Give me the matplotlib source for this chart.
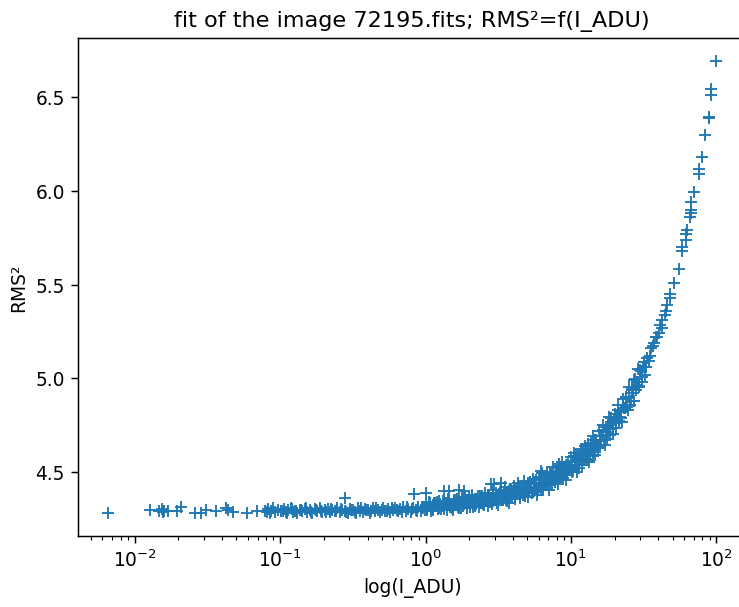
import numpy as np
import matplotlib
matplotlib.use("Agg")
import matplotlib.pyplot as plt

# Faint sources (I_ADU < 0.1)
faint_i = [0.0066, 0.0128, 0.0147, 0.0153, 0.0157, 0.0160, 0.0170, 0.0194, 0.0207,
           0.0259, 0.0288, 0.0307, 0.0362, 0.0422, 0.0440, 0.0472, 0.0589, 0.0690,
           0.0790, 0.0815, 0.0832, 0.0851, 0.0870, 0.0890, 0.0930, 0.0975]
faint_rms2 = [4.282, 4.296, 4.290, 4.300, 4.284, 4.293, 4.291, 4.290, 4.314,
              4.282, 4.283, 4.296, 4.290, 4.305, 4.298, 4.286, 4.282, 4.290,
              4.294, 4.285, 4.300, 4.279, 4.292, 4.306, 4.288, 4.297]

# 0.1 <= I_ADU < 1
low_i = [0.101, 0.106, 0.110, 0.114, 0.118, 0.122, 0.127, 0.131, 0.137, 0.142,
         0.148, 0.153, 0.160, 0.167, 0.173, 0.180, 0.188, 0.195, 0.203, 0.212,
         0.220, 0.229, 0.238, 0.248, 0.258, 0.268, 0.280, 0.291, 0.303, 0.315,
         0.328, 0.341, 0.355, 0.370, 0.385, 0.400, 0.417, 0.434, 0.451, 0.470,
         0.489, 0.509, 0.530, 0.551, 0.574, 0.597, 0.621, 0.647, 0.673, 0.700,
         0.729, 0.759, 0.790, 0.822, 0.856, 0.891, 0.927, 0.965,
         0.104, 0.112, 0.120, 0.129, 0.140, 0.151, 0.163, 0.176, 0.191, 0.207,
         0.224, 0.243, 0.263, 0.286, 0.309, 0.335, 0.362, 0.392, 0.425, 0.460,
         0.499, 0.540, 0.585, 0.634, 0.687, 0.744, 0.806, 0.873, 0.945, 0.985]
low_rms2 = [4.290, 4.301, 4.285, 4.296, 4.306, 4.288, 4.294, 4.283, 4.299, 4.291,
            4.304, 4.287, 4.296, 4.281, 4.300, 4.292, 4.308, 4.286, 4.295, 4.302,
            4.284, 4.297, 4.290, 4.306, 4.288, 4.299, 4.293, 4.282, 4.303, 4.295,
            4.288, 4.309, 4.292, 4.286, 4.301, 4.296, 4.283, 4.305, 4.291, 4.299,
            4.287, 4.310, 4.294, 4.302, 4.285, 4.298, 4.306, 4.290, 4.301, 4.311,
            4.293, 4.304, 4.287, 4.308, 4.297, 4.313, 4.292, 4.305,
            4.294, 4.282, 4.302, 4.289, 4.297, 4.307, 4.284, 4.299, 4.291, 4.285,
            4.304, 4.293, 4.300, 4.288, 4.296, 4.283, 4.305, 4.297, 4.290, 4.308,
            4.298, 4.289, 4.310, 4.295, 4.286, 4.312, 4.300, 4.291, 4.315, 4.299]

# 1 <= I_ADU < 10
mid_i = [1.01, 1.03, 1.05, 1.08, 1.10, 1.12, 1.15, 1.17, 1.20, 1.23, 1.25, 1.28,
         1.31, 1.33, 1.36, 1.40, 1.43, 1.46, 1.49, 1.52, 1.56, 1.60, 1.63, 1.67,
         1.71, 1.75, 1.79, 1.83, 1.87, 1.92, 1.96, 2.01, 2.05, 2.10, 2.15, 2.20,
         2.25, 2.30, 2.36, 2.41, 2.47, 2.52, 2.58, 2.64, 2.70, 2.77, 2.83, 2.90,
         2.96, 3.03, 3.10, 3.18, 3.25, 3.33, 3.40, 3.48, 3.57, 3.65, 3.73, 3.82,
         3.91, 4.00, 4.10, 4.19, 4.29, 4.39, 4.49, 4.60, 4.70, 4.81, 4.93, 5.04,
         5.16, 5.28, 5.40, 5.53, 5.66, 5.79, 5.93, 6.06, 6.21, 6.35, 6.50, 6.65,
         6.81, 6.97, 7.13, 7.30, 7.47, 7.64, 7.82, 8.00, 8.19, 8.38, 8.58, 8.78,
         8.98, 9.19, 9.41, 9.63, 9.85,
         1.02, 1.06, 1.09, 1.13, 1.16, 1.21, 1.24, 1.29, 1.34, 1.38,
         1.42, 1.47, 1.51, 1.55, 1.58, 1.62, 1.65, 1.69, 1.73, 1.77,
         1.81, 1.85, 1.90, 1.94, 1.99, 2.03, 2.08, 2.12, 2.18, 2.23,
         2.28, 2.33, 2.39, 2.44, 2.50, 2.55, 2.61, 2.67, 2.73, 2.80,
         2.87, 2.93, 3.00, 3.07, 3.14, 3.21, 3.29, 3.37, 3.44, 3.52,
         3.61, 3.69, 3.78, 3.86, 3.95, 4.05, 4.14, 4.24, 4.34, 4.44,
         4.55, 4.65, 4.76, 4.87, 4.99, 5.10, 5.22, 5.34, 5.47, 5.60,
         5.72, 5.86, 6.00, 6.14, 6.28, 6.42, 6.58, 6.73, 6.89, 7.05,
         7.22, 7.38, 7.56, 7.73, 7.91, 8.10, 8.29, 8.48, 8.68, 8.88,
         9.09, 9.30, 9.52, 9.74, 9.96]
mid_rms2 = [4.326, 4.297, 4.319, 4.336, 4.308, 4.295, 4.333, 4.316, 4.337, 4.306,
            4.327, 4.301, 4.345, 4.317, 4.333, 4.299, 4.325, 4.342, 4.315, 4.305,
            4.340, 4.322, 4.351, 4.313, 4.336, 4.308, 4.349, 4.331, 4.361, 4.323,
            4.345, 4.311, 4.342, 4.359, 4.332, 4.320, 4.358, 4.341, 4.372, 4.332,
            4.355, 4.324, 4.363, 4.345, 4.376, 4.337, 4.360, 4.388, 4.349, 4.372,
            4.336, 4.381, 4.365, 4.393, 4.354, 4.380, 4.351, 4.390, 4.373, 4.409,
            4.369, 4.390, 4.358, 4.409, 4.391, 4.419, 4.378, 4.409, 4.376, 4.419,
            4.402, 4.440, 4.398, 4.420, 4.389, 4.443, 4.417, 4.455, 4.411, 4.443,
            4.406, 4.458, 4.442, 4.480, 4.435, 4.467, 4.432, 4.487, 4.458, 4.478,
            4.444, 4.501, 4.480, 4.522, 4.474, 4.513, 4.491, 4.538, 4.486, 4.527,
            4.514,
            4.304, 4.337, 4.291, 4.323, 4.336, 4.303, 4.347, 4.320, 4.302, 4.336,
            4.354, 4.313, 4.330, 4.299, 4.348, 4.323, 4.355, 4.309, 4.341, 4.365,
            4.316, 4.331, 4.351, 4.307, 4.362, 4.330, 4.375, 4.315, 4.353, 4.330,
            4.374, 4.313, 4.350, 4.370, 4.331, 4.389, 4.345, 4.318, 4.373, 4.363,
            4.330, 4.401, 4.349, 4.390, 4.325, 4.376, 4.403, 4.350, 4.371, 4.418,
            4.346, 4.394, 4.336, 4.411, 4.374, 4.426, 4.365, 4.395, 4.441, 4.359,
            4.419, 4.387, 4.454, 4.373, 4.418, 4.364, 4.446, 4.412, 4.464, 4.398,
            4.441, 4.379, 4.471, 4.419, 4.493, 4.403, 4.470, 4.442, 4.501, 4.405,
            4.491, 4.436, 4.526, 4.456, 4.492, 4.437, 4.529, 4.490, 4.551, 4.466,
            4.527, 4.457, 4.552, 4.510, 4.578]

# 10 <= I_ADU < 33
bright_i = [10.1, 10.3, 10.6, 10.8, 11.0, 11.3, 11.5, 11.8, 12.0, 12.3, 12.6, 12.9,
            13.2, 13.5, 13.8, 14.1, 14.4, 14.7, 15.1, 15.4, 15.8, 16.1, 16.5, 16.9,
            17.3, 17.7, 18.1, 18.5, 18.9, 19.4, 19.8, 20.3, 20.7, 21.2, 21.7, 22.2,
            22.7, 23.2, 23.8, 24.3, 24.9, 25.5, 26.1, 26.7, 27.3, 27.9, 28.6, 29.2,
            29.9, 30.6, 31.3, 32.1,
            10.2, 10.45, 10.7, 10.95, 11.15, 11.4, 11.65, 11.9, 12.15, 12.45,
            12.75, 13.05, 13.35, 13.65, 13.95, 14.25, 14.55, 14.9, 15.25, 15.6,
            15.95, 16.3, 16.7, 17.1, 17.5, 17.9, 18.3, 18.7, 19.15, 19.6,
            20.05, 20.5, 20.95, 21.45, 21.95, 22.45, 22.95, 23.5, 24.05, 24.6,
            25.2, 25.8, 26.4, 27.0, 27.6, 28.25, 28.9, 29.55, 30.25, 30.95,
            31.7, 32.5, 33.6, 34.3, 35.8, 38.5, 39.2, 41.2]
bright_rms2 = [4.552, 4.507, 4.552, 4.584, 4.539, 4.523, 4.591, 4.569, 4.609, 4.563,
               4.604, 4.566, 4.646, 4.605, 4.638, 4.587, 4.638, 4.671, 4.633, 4.627,
               4.691, 4.668, 4.722, 4.670, 4.715, 4.675, 4.750, 4.729, 4.786, 4.736,
               4.779, 4.733, 4.793, 4.831, 4.795, 4.786, 4.858, 4.840, 4.901, 4.846,
               4.899, 4.857, 4.946, 4.919, 4.990, 4.936, 4.980, 4.953, 5.042, 5.009,
               5.060, 5.019,
               4.500, 4.586, 4.557, 4.501, 4.586, 4.552, 4.625, 4.535, 4.600, 4.637,
               4.568, 4.608, 4.552, 4.654, 4.621, 4.692, 4.593, 4.669, 4.638, 4.716,
               4.635, 4.693, 4.749, 4.645, 4.740, 4.712, 4.791, 4.696, 4.766, 4.700,
               4.811, 4.760, 4.858, 4.770, 4.820, 4.767, 4.891, 4.839, 4.897, 4.830,
               4.955, 4.879, 4.936, 4.880, 4.994, 4.962, 5.050, 4.959, 5.040, 4.978,
               5.086, 5.058, 5.106, 5.093, 5.164, 5.219, 5.221, 5.287]

# Brightest sources (I_ADU >= 33)
top_i = [33.0, 35.0, 36.9, 37.3, 40.3, 42.0, 42.6, 44.4, 45.0, 45.5, 47.8, 48.3,
         51.3, 55.3, 58.0, 58.5, 61.6, 62.0, 62.5, 66.0, 66.5, 66.8, 67.3, 70.5,
         75.8, 76.5, 79.6, 84.0, 88.9, 89.5, 91.8, 92.4, 99.5]
top_rms2 = [5.060, 5.117, 5.170, 5.190, 5.240, 5.270, 5.310, 5.340, 5.360, 5.390,
            5.430, 5.450, 5.510, 5.584, 5.680, 5.700, 5.740, 5.770, 5.790, 5.860,
            5.880, 5.900, 5.940, 5.997, 6.093, 6.115, 6.180, 6.300, 6.390, 6.394,
            6.512, 6.544, 6.695]

# Scattered sources lying above the main sequence
stray_i = [0.28, 0.83, 1.00, 1.33, 1.44, 1.69, 1.83, 2.80, 2.94, 3.30, 6.2, 8.3,
           10.5, 13.1]
stray_rms2 = [4.360, 4.380, 4.390, 4.400, 4.398, 4.402, 4.396, 4.435, 4.435, 4.440,
              4.505, 4.540, 4.600, 4.650]

i_adu = np.concatenate([faint_i, low_i, mid_i, bright_i, top_i, stray_i])
rms2 = np.concatenate([faint_rms2, low_rms2, mid_rms2, bright_rms2, top_rms2, stray_rms2])

DPI = 134.6
fig = plt.figure(figsize=(739.4 / DPI, 607.4 / DPI), dpi=DPI)
ax = fig.add_axes([78 / 739, 71 / 607, 668 / 739, 497.5 / 607])
ax.plot(i_adu, rms2, '+', color='#1f77b4', markersize=6)
ax.set_xscale('log')
ax.set_title("fit of the image 72195.fits; RMS\u00b2=f(I_ADU)")
ax.set_xlabel("log(I_ADU)")
ax.set_ylabel("RMS\u00b2")

fig.savefig("out.png", dpi=DPI)
